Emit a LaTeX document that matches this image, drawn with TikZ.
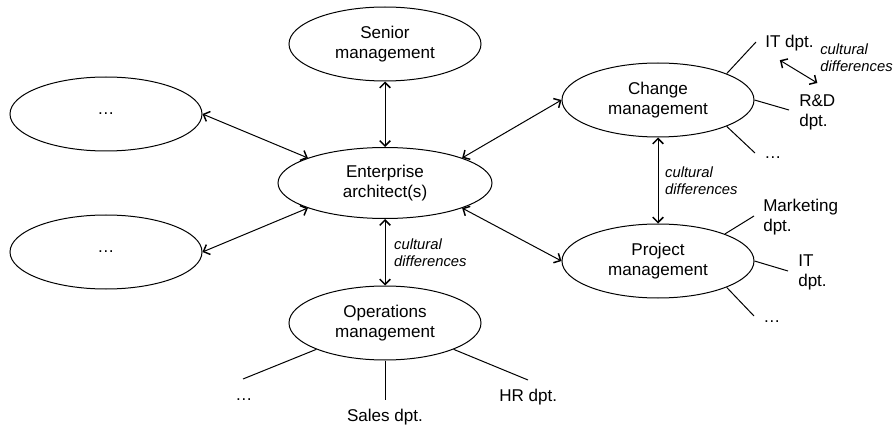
\documentclass[tikz,border=0pt]{standalone}
\usepackage{fontspec}
\setmainfont{Liberation Sans}
\usetikzlibrary{arrows.meta, shapes.geometric, positioning}

\tikzset{
    role/.style={ellipse, draw, line width=0.75pt, minimum width=144pt, minimum height=55.5pt,
        inner sep=1pt, align=center, font=\fontsize{12.8}{15}\selectfont},
    dept/.style={anchor=west, inner sep=0pt, align=left, font=\fontsize{12.8}{15}\selectfont},
    cult/.style={inner sep=5pt, align=left, font=\fontsize{11.1}{12.8}\selectfont\itshape},
    link/.style={{Straight Barb[length=4pt,width=8pt,line width=1.1pt]}-{Straight Barb[length=4pt,width=8pt,line width=1.1pt]}, line width=0.75pt},
    dline/.style={line width=0.75pt}
}

\begin{document}
\begin{tikzpicture}[x=0.75pt, y=-0.75pt]
    \useasboundingbox (0, 0) rectangle (894, 428);

    % roles
    \node[role] (senior) at (385, 44) {Senior\\management};
    \node[role, minimum width=160.5pt, minimum height=53.25pt] (ea) at (385, 183) {Enterprise\\architect(s)};
    \node[role] (lft1) at (106, 114) {…};
    \node[role] (lft2) at (106, 252) {…};
    \node[role] (chg) at (658, 100) {Change\\management};
    \node[role] (prj) at (658, 261) {Project\\management};
    \node[role] (ops) at (385, 323) {Operations\\management};

    % departments
    \node[dept] (itc) at (765, 43) {IT dpt.};
    \node[dept] (rd) at (799, 112) {R\&D\\dpt.};
    \node[inner sep=0pt, font=\fontsize{12.8}{15}\selectfont] (cdots) at (773, 158) {…};
    \node[dept] (mkt) at (763, 217) {Marketing\\dpt.};
    \node[dept] (itp) at (798, 272) {IT\\dpt.};
    \node[inner sep=0pt, font=\fontsize{12.8}{15}\selectfont] (pdots) at (772, 322) {…};
    \node[inner sep=0pt, font=\fontsize{12.8}{15}\selectfont] (odots) at (244, 400) {…};
    \node[inner sep=0pt, font=\fontsize{12.8}{15}\selectfont] (sales) at (385, 417) {Sales dpt.};
    \node[dept] (hr) at (499, 397) {HR dpt.};
    \node[cult, anchor=west, inner sep=0pt] (cdtop) at (820, 58) {cultural\\differences};

    \coordinate (itcend) at (756, 42);
    \coordinate (rdend) at (789, 110);
    \coordinate (cdotsend) at (755, 153);
    \coordinate (mktend) at (754, 216);
    \coordinate (itpend) at (788, 271);
    \coordinate (pdotsend) at (754, 316);
    \coordinate (odotsend) at (243, 379);
    \coordinate (salesend) at (385, 400);
    \coordinate (hrend) at (528, 380);

    \draw
    (senior) edge[link] (ea)
    (lft1.east) edge[link] (ea.162)
    (lft2.east) edge[link] (ea.198)
    (ea.18) edge[link] (chg.west)
    (ea.-18) edge[link] (prj.west)
    (ea) edge[link] node[cult, right, inner sep=6.5pt]{cultural\\differences} (ops)
    (chg) edge[link] node[cult, right]{cultural\\differences} (prj)
    (itc.south west) edge[link, shorten <=13pt, shorten >=16pt] (rd.north east);

    \draw[dline] (chg.21) -- (itcend);
    \draw[dline] (chg.east) -- (rdend);
    \draw[dline] (chg.-21) -- (cdotsend);
    \draw[dline] (prj.22) -- (mktend);
    \draw[dline] (prj.east) -- (itpend);
    \draw[dline] (prj.-21) -- (pdotsend);
    \draw[dline] (ops.201) -- (odotsend);
    \draw[dline] (ops.south) -- (salesend);
    \draw[dline] (ops.-21) -- (hrend);
\end{tikzpicture}
\end{document}
